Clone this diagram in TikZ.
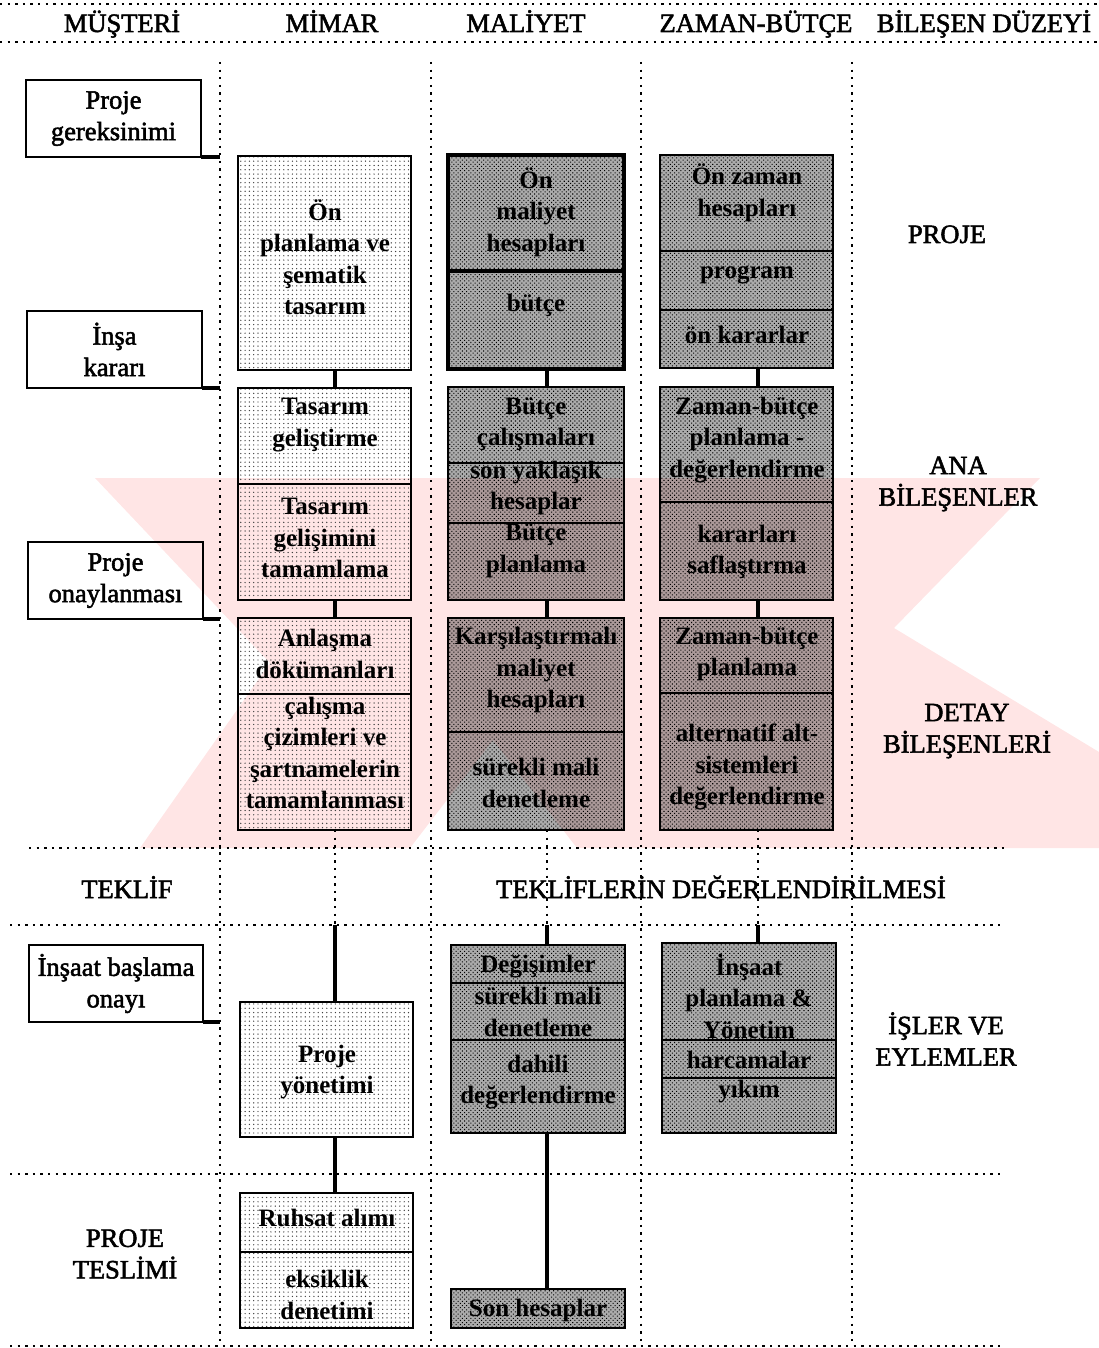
\documentclass[tikz,border=0pt]{standalone}
\usepackage{fontspec}
\setmainfont{Liberation Serif}
\newfontfamily\inkfont{Liberation Serif}[FakeBold=2]
\usetikzlibrary{patterns.meta}

\newcommand\lblfont{\inkfont\fontsize{26.5}{31.5}\selectfont}
\newcommand\boxfont{\fontsize{25}{31.5}\selectfont\bfseries}

% part of a stacked box: name, style, left, right, top, bottom
\newcommand\pb[6]{\node[#2, minimum width={#4-#3}, minimum height={#6-#5}] (#1) at ({(#3+#4)/2},{(#5+#6)/2}) {};}
% text set inside a part: name, x, y, text
\newcommand\ptxt[4]{\node[boxtxt] (#1) at (#2,#3) {#4};}

\tikzset{
  dotline/.style={line width=2.3pt, dash pattern=on 2.3pt off 5.3pt},
  conn/.style={line width=3.3pt},
  client/.style={draw, line width=2pt, outer sep=0pt, inner sep=0pt, align=center, font=\lblfont},
  lbl/.style={align=center, font=\lblfont, inner sep=0pt},
  boxtxt/.style={align=center, font=\boxfont, inner sep=0pt},
  mim/.style={draw, line width=2.2pt, outer sep=0pt, inner sep=0pt,
    pattern={Dots[distance=4.3pt, radius=0.7pt]}, pattern color=black!75},
  mal/.style={draw, line width=2.3pt, outer sep=0pt, inner sep=0pt,
    preaction={fill=black, fill opacity=0.33},
    pattern={Dots[distance=3pt, radius=0.75pt, angle=45]}, pattern color=black},
  malg/.style={mal, line width=3.4pt},
  wm/.style={fill=red!10},
}

\begin{document}
\begin{tikzpicture}[x=1pt, y=-1pt]
\useasboundingbox (0,0) rectangle (1099,1348);

% faint background mark
\fill[wm] (95,478) -- (1040,478) -- (894,628) -- (1099,752) -- (1099,848)
  -- (577,848) -- (493,740) -- (410,848) -- (140,848) -- (270,663) -- cycle;

% grid of dotted rules
\draw[dotline] (0,4) -- (1099,4);
\draw[dotline] (0,42) -- (1099,42);
\draw[dotline] (29,848) -- (1005,848);
\draw[dotline] (10,925) -- (1005,925);
\draw[dotline] (10,1174) -- (1005,1174);
\draw[dotline] (10,1346) -- (1005,1346);
\coordinate (vl1) at (220,62);
\coordinate (vl2) at (431,62);
\coordinate (vl3) at (641,62);
\coordinate (vl4) at (852,62);
\foreach \v in {vl1,vl2,vl3,vl4} \draw[dotline] (\v) -- ++(0,1284);

% column headings
\node[lbl, anchor=base] (h1) at (122,32) {MÜŞTERİ};
\node[lbl, anchor=base] (h2) at (332,32) {MİMAR};
\node[lbl, anchor=base] (h3) at (526,32) {MALİYET};
\node[lbl, anchor=base] (h4) at (756,32) {ZAMAN-BÜTÇE};
\node[lbl, anchor=base] (h5) at (984,32) {BİLEŞEN DÜZEYİ};

% level labels
\node[lbl, anchor=base] (lv1) at (947,243) {PROJE};
\node[lbl] (lv2) at (958,484) {ANA\\BİLEŞENLER};
\node[lbl] (lv3) at (967,731) {DETAY\\BİLEŞENLERİ};
\node[lbl] (lv4) at (946,1039) {İŞLER VE\\EYLEMLER};
\node[lbl, anchor=base] (lv5) at (127,898) {TEKLİF};
\node[lbl, anchor=base] (lv6) at (721,898) {TEKLİFLERİN DEĞERLENDİRİLMESİ};
\node[lbl] (lv7) at (125,1254) {PROJE\\TESLİMİ};

% client decisions
\node[client, minimum width=175, minimum height=77] (pg) at (113.5,118.5) {Proje\\gereksinimi};
\node[client, minimum width=175, minimum height=77] (ik) at (114.5,349.5) {İnşa\\kararı};
\node[client, minimum width=175, minimum height=77] (po) at (115.5,580.5) {Proje\\onaylanması};
\node[client, minimum width=174, minimum height=77] (ib) at (116,983.5) {İnşaat başlama\\onayı};
\foreach \n in {pg,ik,po,ib} \draw[conn] (\n.south east) -- (\n.south east -| vl1);

% architect column
\pb{m1}{mim}{238}{411}{156}{370}
\pb{m2a}{mim}{238}{411}{388}{484}
\pb{m2b}{mim}{238}{411}{484}{600}
\pb{m3a}{mim}{238}{411}{618}{694}
\pb{m3b}{mim}{238}{411}{694}{830}
\pb{m4}{mim}{240}{413}{1002}{1137}
\pb{m5a}{mim}{240}{413}{1193}{1252}
\pb{m5b}{mim}{240}{413}{1252}{1328}
\ptxt{m1t}{325}{257}{Ön\\planlama ve\\şematik\\tasarım}
\ptxt{m2at}{325}{425}{Tasarım\\geliştirme}
\ptxt{m2bt}{325}{538}{Tasarım\\gelişimini\\tamamlama}
\ptxt{m3at}{325}{654}{Anlaşma\\dökümanları}
\ptxt{m3bt}{325}{753}{çalışma\\çizimleri ve\\şartnamelerin\\tamamlanması}
\ptxt{m4t}{327}{1072}{Proje\\yönetimi}
\ptxt{m5at}{327}{1218}{Ruhsat alımı}
\ptxt{m5bt}{327}{1295}{eksiklik\\denetimi}

% cost column
\pb{c1a}{malg}{448}{624}{155}{271}
\pb{c1b}{malg}{448}{624}{271}{369}
\pb{c2a}{mal}{448}{624}{387}{463}
\pb{c2b}{mal}{448}{624}{463}{523}
\pb{c2c}{mal}{448}{624}{523}{600}
\pb{c3a}{mal}{448}{624}{618}{732}
\pb{c3b}{mal}{448}{624}{732}{830}
\pb{c4a}{mal}{451}{625}{945}{983}
\pb{c4b}{mal}{451}{625}{983}{1040}
\pb{c4c}{mal}{451}{625}{1040}{1133}
\pb{c5}{mal}{451}{625}{1289}{1328}
\ptxt{c1at}{536}{212}{Ön\\maliyet\\hesapları}
\ptxt{c1bt}{536}{305}{bütçe}
\ptxt{c2at}{536}{424}{Bütçe\\çalışmaları}
\ptxt{c2bt}{536}{488}{son yaklaşık\\hesaplar}
\ptxt{c2ct}{536}{551}{Bütçe\\planlama}
\ptxt{c3at}{536}{670}{Karşılaştırmalı\\maliyet\\hesapları}
\ptxt{c3bt}{536}{783}{sürekli mali\\denetleme}
\ptxt{c4at}{538}{966}{Değişimler}
\ptxt{c4bt}{538}{1012}{sürekli mali\\denetleme}
\ptxt{c4ct}{538}{1082}{dahili\\değerlendirme}
\ptxt{c5t}{538}{1310}{Son hesaplar}

% time-budget column
\pb{z1a}{mal}{660}{833}{155}{251}
\pb{z1b}{mal}{660}{833}{251}{310}
\pb{z1c}{mal}{660}{833}{310}{368}
\pb{z2a}{mal}{660}{833}{387}{502}
\pb{z2b}{mal}{660}{833}{502}{600}
\pb{z3a}{mal}{660}{833}{618}{693}
\pb{z3b}{mal}{660}{833}{693}{830}
\pb{z4a}{mal}{662}{836}{943}{1040}
\pb{z4b}{mal}{662}{836}{1040}{1078}
\pb{z4c}{mal}{662}{836}{1078}{1133}
\ptxt{z1at}{747}{193}{Ön zaman\\hesapları}
\ptxt{z1bt}{747}{275}{program}
\ptxt{z1ct}{747}{335}{ön kararlar}
\ptxt{z2at}{747}{440}{Zaman-bütçe\\planlama -\\değerlendirme}
\ptxt{z2bt}{747}{552}{kararları\\saflaştırma}
\ptxt{z3at}{747}{654}{Zaman-bütçe\\planlama}
\ptxt{z3bt}{747}{767}{alternatif alt-\\sistemleri\\değerlendirme}
\ptxt{z4at}{749}{996}{İnşaat\\planlama \&\\Yönetim}
\ptxt{z4bt}{749}{1060}{harcamalar}
\ptxt{z4ct}{749}{1092}{yıkım}

% links down each column
\coordinate (mx) at (335,0);
\coordinate (cx) at (547,0);
\coordinate (zx) at (758,0);
\coordinate (mj) at (335,925);
\coordinate (cj) at (547,925);
\coordinate (zj) at (758,925);
\draw[conn] (m1.south -| mx) -- (m2a.north -| mx);
\draw[conn] (m2b.south -| mx) -- (m3a.north -| mx);
\draw[dotline] (m3b.south -| mx) -- (mj);
\draw[conn] (mj) -- (m4.north -| mx);
\draw[conn] (m4.south -| mx) -- (m5a.north -| mx);
\draw[conn] (c1b.south -| cx) -- (c2a.north -| cx);
\draw[conn] (c2c.south -| cx) -- (c3a.north -| cx);
\draw[dotline] (c3b.south -| cx) -- (cj);
\draw[conn] (cj) -- (c4a.north -| cx);
\draw[conn] (c4c.south -| cx) -- (c5.north -| cx);
\draw[conn] (z1c.south -| zx) -- (z2a.north -| zx);
\draw[conn] (z2b.south -| zx) -- (z3a.north -| zx);
\draw[dotline] (z3b.south -| zx) -- (zj);
\draw[conn] (zj) -- (z4a.north -| zx);
\end{tikzpicture}
\end{document}
